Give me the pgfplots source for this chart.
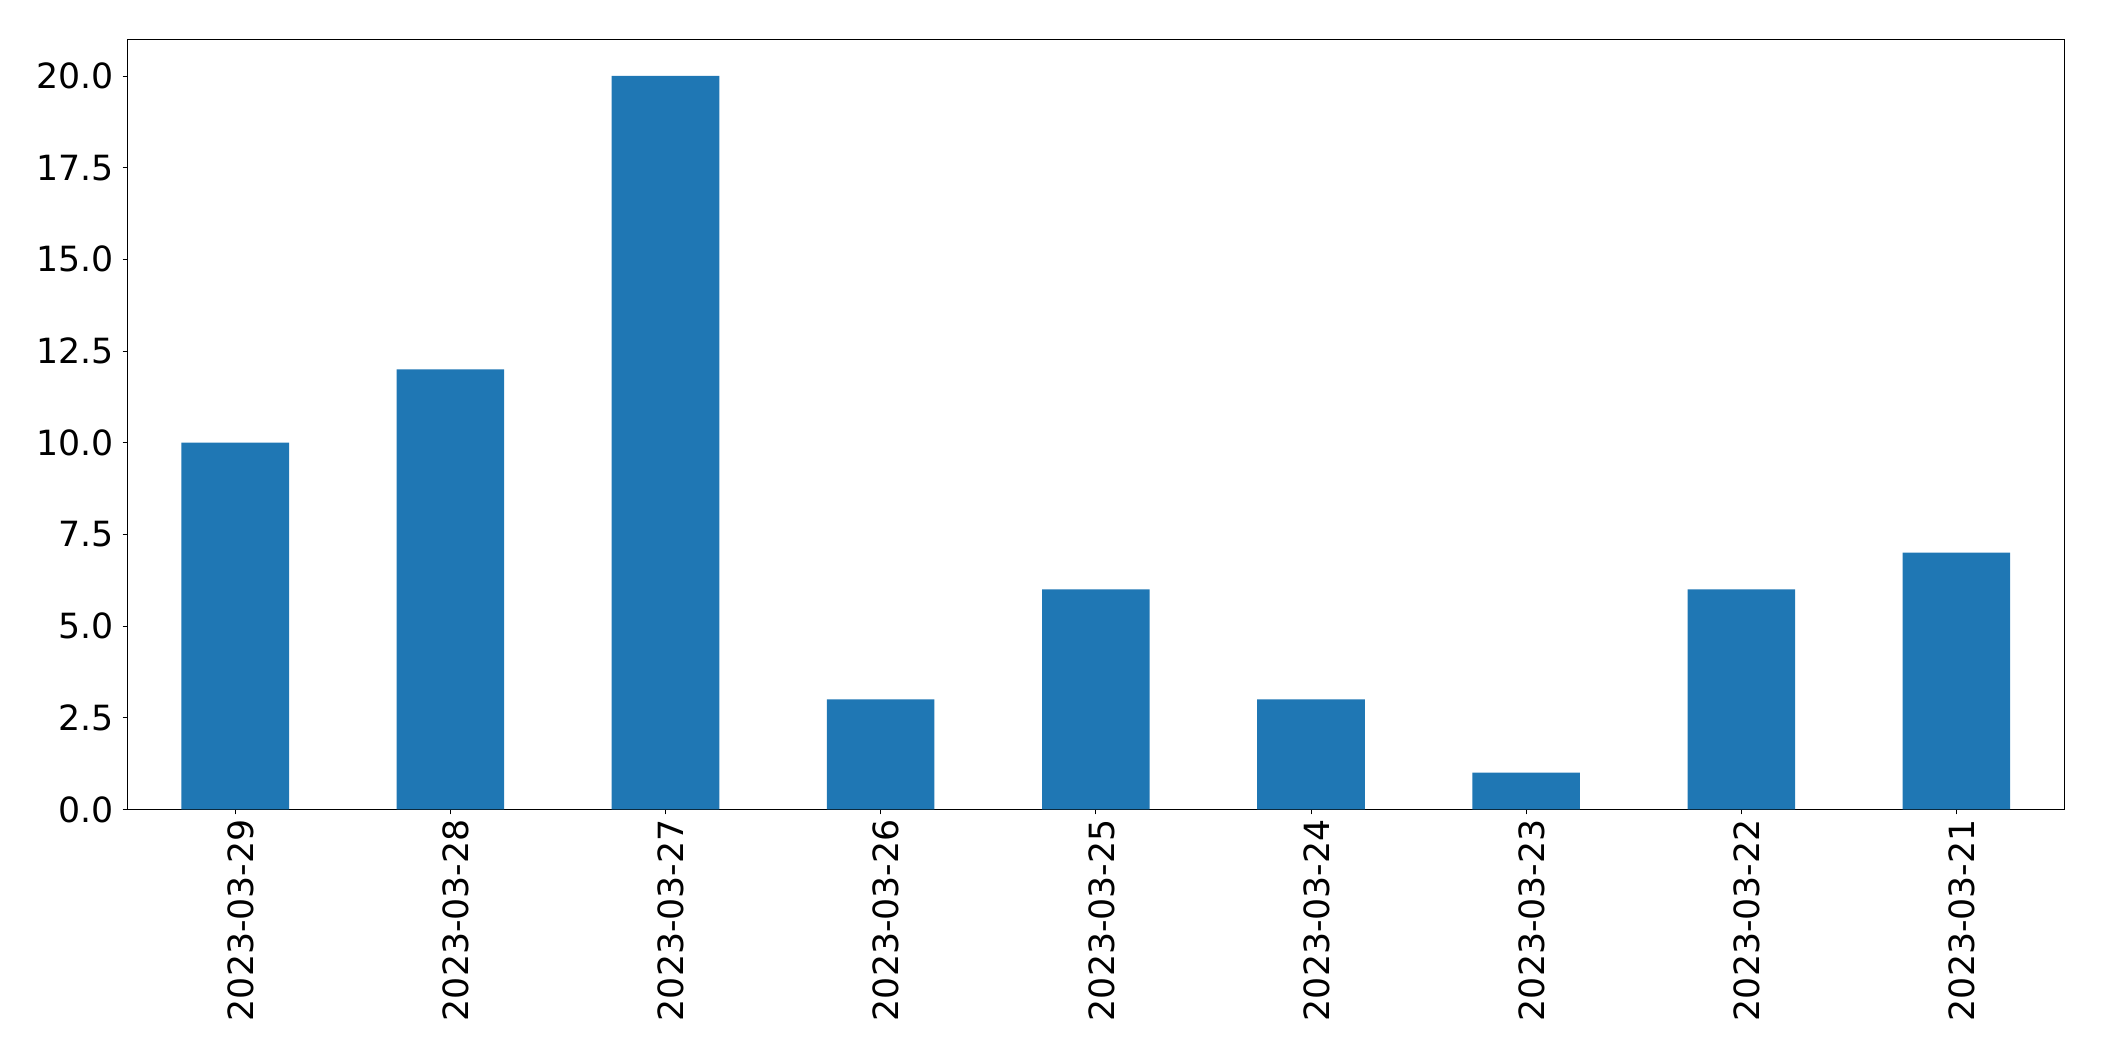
\documentclass[border=0pt]{standalone}
\usepackage{fontspec}
\setmainfont{DejaVu Sans}
\usepackage{pgfplots}
\pgfplotsset{compat=1.18}
\definecolor{tabblue}{HTML}{1F77B4}
\begin{document}
\begin{tikzpicture}
\begin{axis}[
  scale only axis,
  width=1394.1pt, height=554.4pt,
  xmin=-0.5, xmax=8.5, ymin=0, ymax=21,
  xtick={0,...,8},
  xticklabels={2023-03-29,2023-03-28,2023-03-27,2023-03-26,2023-03-25,2023-03-24,2023-03-23,2023-03-22,2023-03-21},
  ytick={0,2.5,...,20},
  yticklabel style={/pgf/number format/fixed, /pgf/number format/fixed zerofill, /pgf/number format/precision=1, /pgf/number format/assume math mode=true, xshift=-3pt},
  tick label style={font=\fontsize{25}{30}\selectfont},
  xticklabel style={rotate=90, anchor=east, yshift=-4pt},
  tick align=outside, xtick pos=bottom, ytick pos=left,
  major tick length=3.6pt,
  tick style={black, line width=0.6pt},
  axis line style={black, line width=0.6pt},
  enlargelimits=false,
]
\addplot[ybar, bar width=0.5, fill=tabblue, draw=none, bar shift=0pt] coordinates {
  (0,10) (1,12) (2,20) (3,3) (4,6) (5,3) (6,1) (7,6) (8,7)
};
\coordinate (ll) at (rel axis cs:0,0);
\coordinate (ur) at (rel axis cs:1,1);
\end{axis}
\pgfresetboundingbox
\path[use as bounding box] ([xshift=-91.9pt, yshift=-181.2pt]ll) rectangle ([xshift=28.8pt, yshift=28.3pt]ur);
\end{tikzpicture}
\end{document}
